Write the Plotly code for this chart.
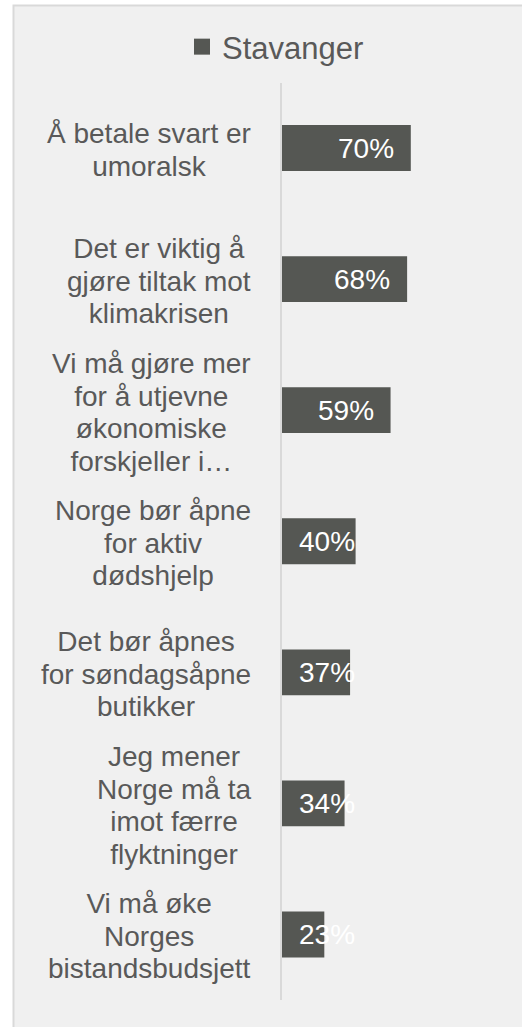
import plotly.graph_objects as go

# data
categories = [
    "Å betale svart er\numoralsk",
    "Det er viktig å\ngjøre tiltak mot\nklimakrisen",
    "Vi må gjøre mer\nfor å utjevne\nøkonomiske\nforskjeller i…",
    "Norge bør åpne\nfor aktiv\ndødshjelp",
    "Det bør åpnes\nfor søndagsåpne\nbutikker",
    "Jeg mener\nNorge må ta\nimot færre\nflyktninger",
    "Vi må øke\nNorges\nbistandsbudsjett",
]
values = [0.70, 0.68, 0.59, 0.40, 0.37, 0.34, 0.23]
value_labels = ["70%", "68%", "59%", "40%", "37%", "34%", "23%"]
series_name = "Stavanger"

W, H = 522, 1027
FONT = "Liberation Sans, Arial, sans-serif"
TEXT_COLOR = "#595959"
BAR_COLOR = "#555753"

# plot area in pixels
X0, X1 = 282, 466
Y_TOP, Y_BOT = 82.5, 1000
PLOT_W = X1 - X0

fig = go.Figure()
fig.add_trace(go.Bar(
    x=values,
    y=categories,
    orientation="h",
    name=series_name,
    showlegend=False,
    marker=dict(color=BAR_COLOR, line=dict(width=0)),
    hoverinfo="skip",
))
# legend entry only (bigger square than the bar legend symbol)
fig.add_trace(go.Scatter(
    x=[None], y=[None], mode="markers", name=series_name,
    marker=dict(symbol="square", size=16, color=BAR_COLOR),
))

# background box of the chart
fig.add_shape(type="rect", xref="paper", yref="paper",
              x0=13.5 / W, x1=1.05, y0=-0.05, y1=1 - 5.5 / H,
              fillcolor="#f0f0f0", line=dict(color="#d9d9d9", width=2),
              layer="below")

annotations = []
# category labels, centered lines, right edge of block at ~252px
for cat in categories:
    lines = ["<span style='font-size:28px'>%s</span>" % l for l in cat.split("\n")]
    annotations.append(dict(
        xref="paper", yref="y", x=253 / W, y=cat, yshift=-2,
        text="<br>".join(lines), showarrow=False,
        xanchor="right", yanchor="middle", align="center",
        font=dict(family=FONT, size=25, color=TEXT_COLOR),
    ))

# data labels: inside end, but never closer than 16px to the bar start
for cat, v, lab in zip(categories, values, value_labels):
    if v * PLOT_W - 17 >= 16 + 55:
        a = dict(x=v, xanchor="right", xshift=-15)
    else:
        a = dict(x=0, xanchor="left", xshift=15)
    a.update(xref="x", yref="y", y=cat, text=lab, showarrow=False,
             yanchor="middle",
             font=dict(family=FONT, size=28, color="white"))
    annotations.append(a)

fig.update_layout(
    width=W, height=H,
    margin=dict(l=0, r=0, t=0, b=0),
    paper_bgcolor="white",
    plot_bgcolor="rgba(0,0,0,0)",
    bargap=0.65,
    showlegend=True,
    legend=dict(orientation="h", x=182 / W, xanchor="left",
                y=1 - 47 / H, yanchor="middle", itemsizing="trace",
                bgcolor="rgba(0,0,0,0)",
                font=dict(family=FONT, size=31, color=TEXT_COLOR)),
    annotations=annotations,
    xaxis=dict(domain=[X0 / W, X1 / W], range=[0, 1], showgrid=False,
               zeroline=False, showticklabels=False, fixedrange=True),
    yaxis=dict(domain=[1 - Y_BOT / H, 1 - Y_TOP / H], autorange="reversed",
               showgrid=False, zeroline=False, showticklabels=False,
               showline=True, linecolor="#d9d9d9", linewidth=1.5,
               automargin=False, fixedrange=True),
)

fig.write_html(
    "out.html",
    config={"displayModeBar": False},
    post_script="document.body.style.margin='0';document.body.style.overflow='hidden';",
)
